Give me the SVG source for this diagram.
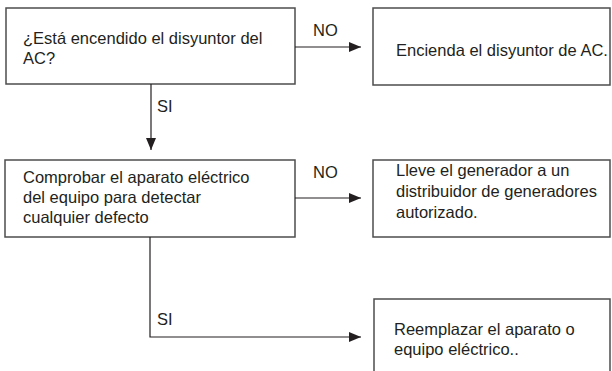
<svg xmlns="http://www.w3.org/2000/svg" width="612" height="371" viewBox="0 0 612 371">
<defs>
<marker id="ah" viewBox="0 0 12 10" refX="12" refY="5" markerWidth="12" markerHeight="10" markerUnits="userSpaceOnUse" orient="auto">
<path d="M0,0 L12,5 L0,10 Z" fill="#231f20"/>
</marker>
<style>
.box{fill:#fff;stroke:#4d4d4d;stroke-width:1.5}
.t{font-family:"Liberation Sans",Arial,sans-serif;font-size:16.5px;fill:#231f20}
.c{fill:none;stroke:#231f20;stroke-width:1.2}
</style>
</defs>
<rect width="612" height="371" fill="#fff"/>
<g id="n1">
<rect class="box" x="6" y="8" width="289" height="76"/>
<text class="t" x="23" y="44">¿Está encendido el disyuntor del</text>
<text class="t" x="23" y="64">AC?</text>
</g>
<g id="n2">
<rect class="box" x="373" y="8" width="237" height="77"/>
<text class="t" x="396" y="56">Encienda el disyuntor de AC.</text>
</g>
<g id="n3">
<rect class="box" x="5" y="160" width="290" height="77"/>
<text class="t" x="23" y="183">Comprobar el aparato eléctrico</text>
<text class="t" x="23" y="203">del equipo para detectar</text>
<text class="t" x="23" y="223">cualquier defecto</text>
</g>
<g id="n4">
<rect class="box" x="373" y="160" width="237" height="77"/>
<text class="t" x="396" y="176">Lleve el generador a un</text>
<text class="t" x="396" y="197">distribuidor de generadores</text>
<text class="t" x="396" y="218">autorizado.</text>
</g>
<g id="n5">
<rect class="box" x="374" y="299" width="236" height="80"/>
<text class="t" x="394" y="335">Reemplazar el aparato o</text>
<text class="t" x="394" y="355">equipo eléctrico..</text>
</g>
<g id="connectors">
<path class="c" d="M295,47 H361" marker-end="url(#ah)"/>
<text class="t" x="313" y="36">NO</text>
<path class="c" d="M151,84 V150" marker-end="url(#ah)"/>
<text class="t" x="157" y="112">SI</text>
<path class="c" d="M295,198 H361" marker-end="url(#ah)"/>
<text class="t" x="313" y="178">NO</text>
<path class="c" d="M150,237 V337 H361" marker-end="url(#ah)"/>
<text class="t" x="157" y="325">SI</text>
</g>
</svg>
